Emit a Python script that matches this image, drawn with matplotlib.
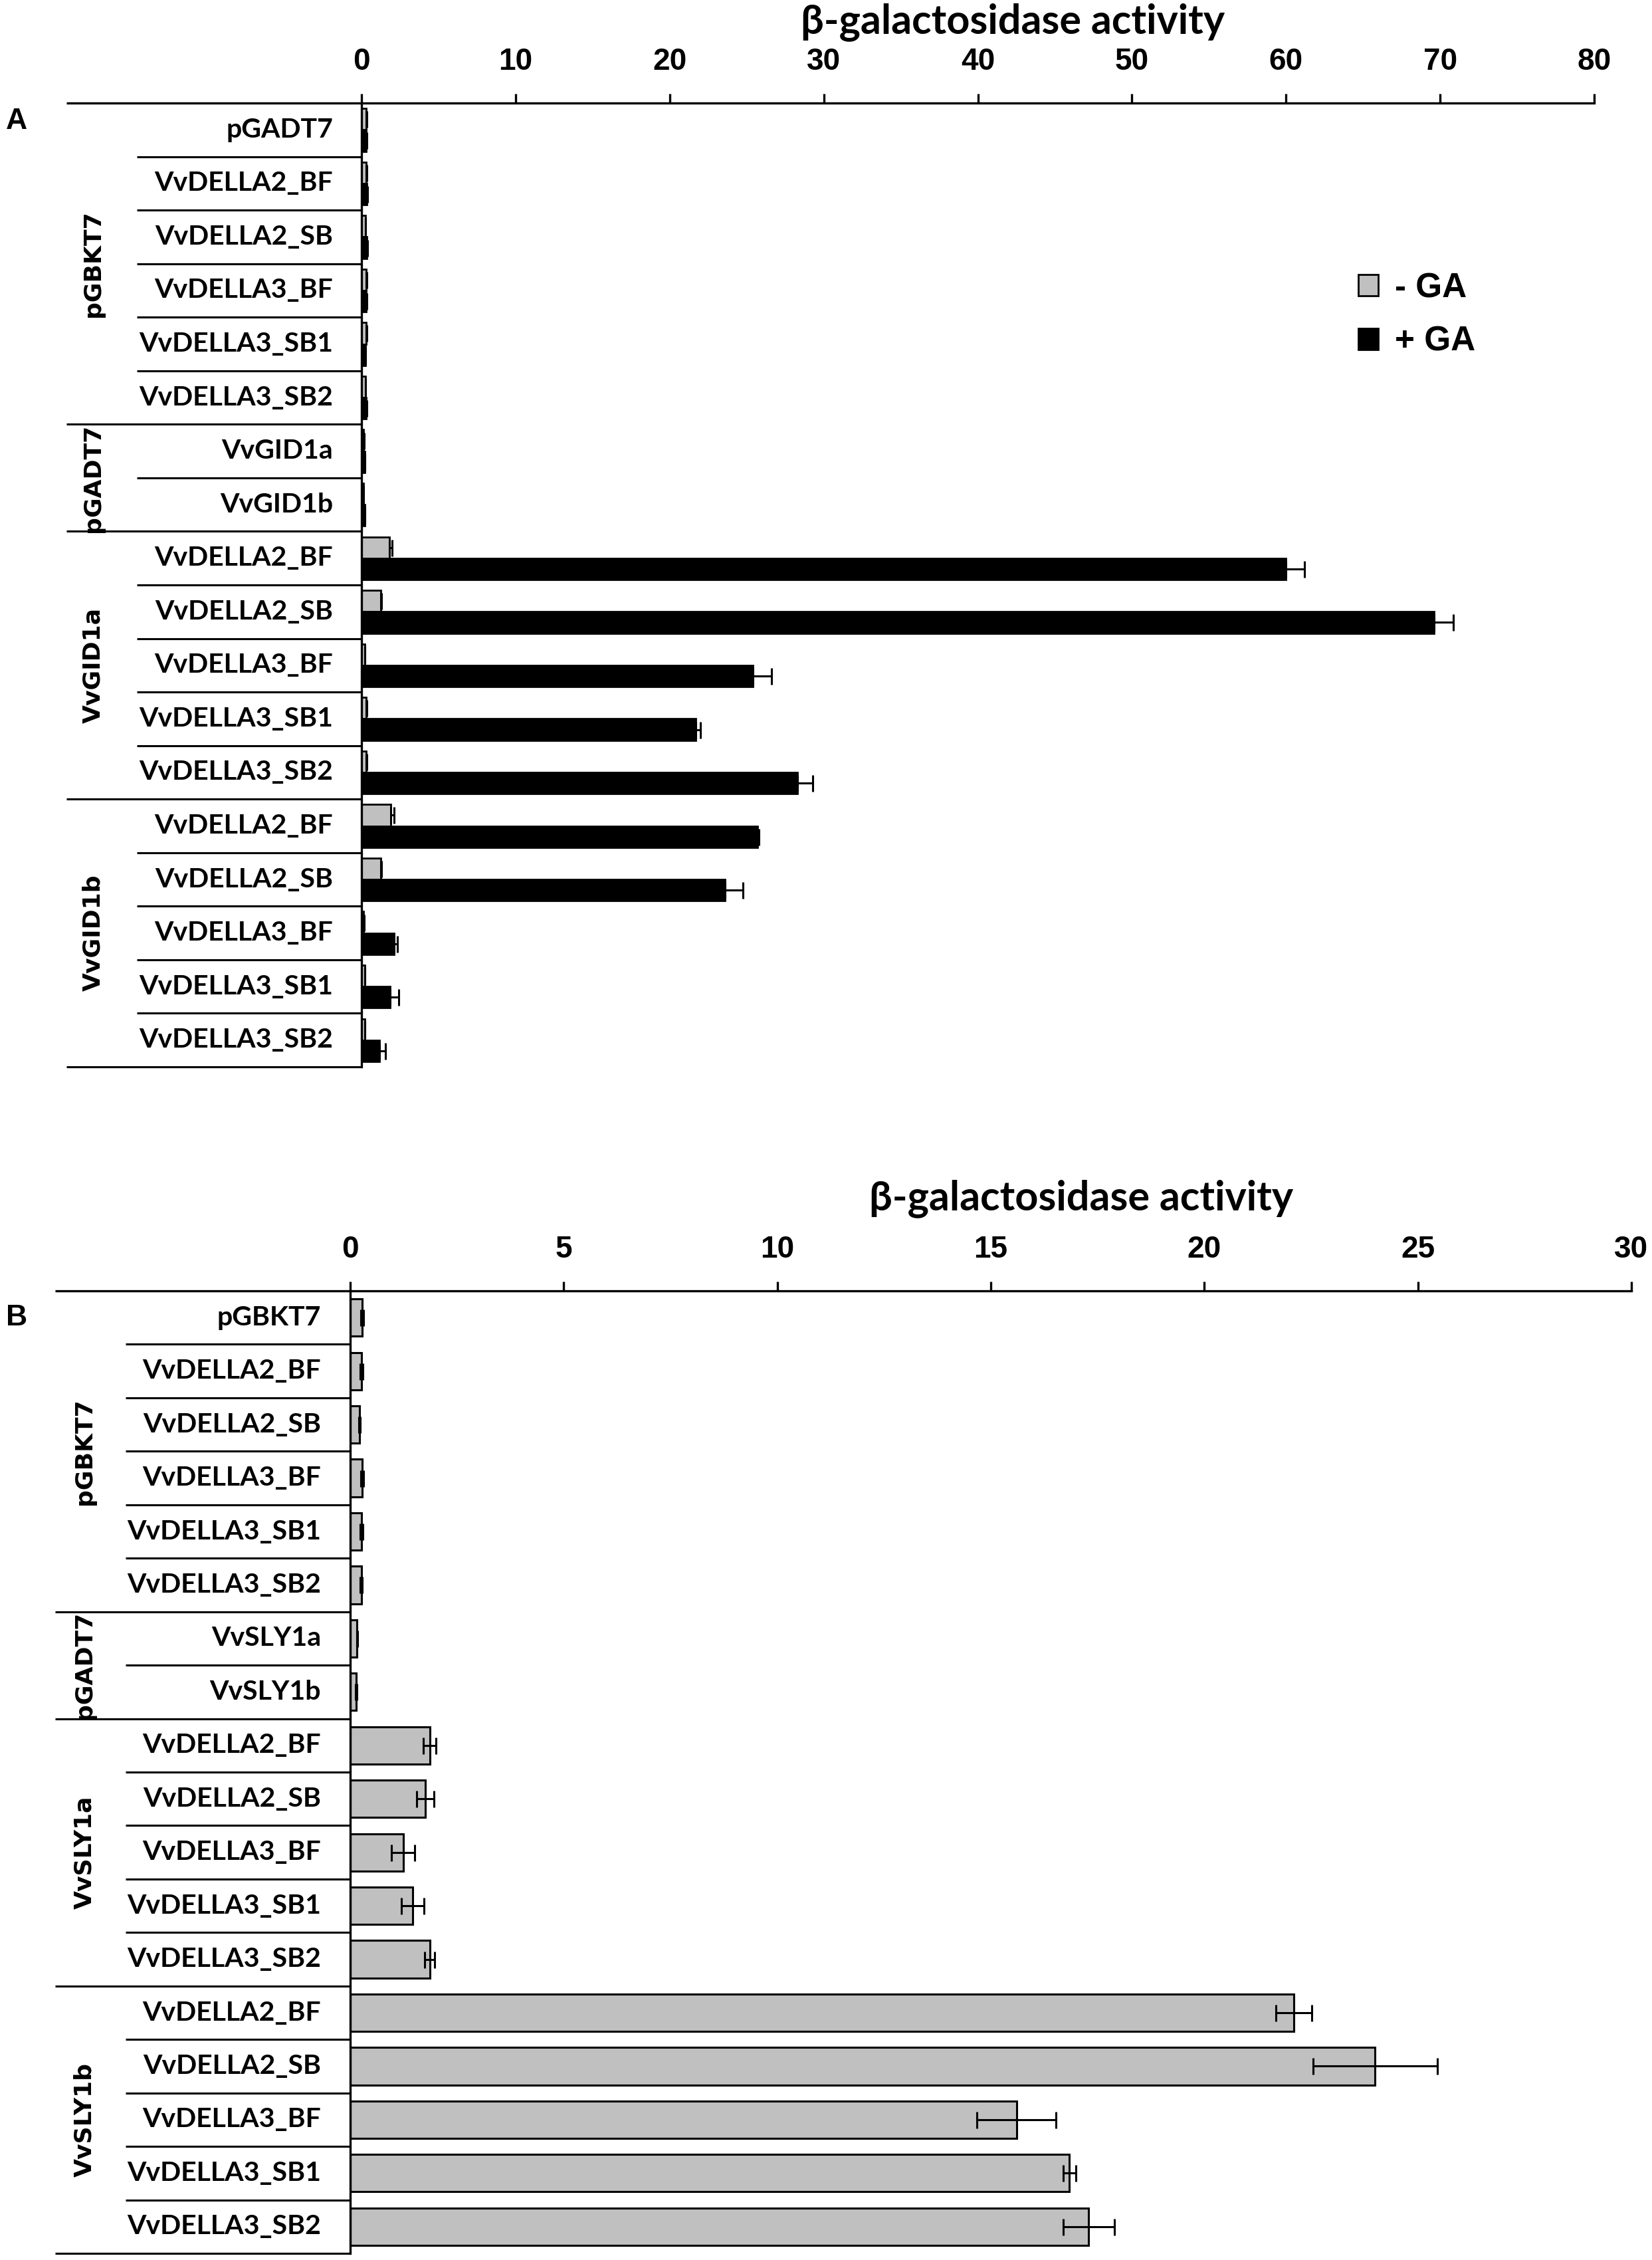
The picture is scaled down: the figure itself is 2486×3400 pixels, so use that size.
import numpy as np
import matplotlib.pyplot as plt
from matplotlib import transforms

W, H = 2486, 3400
LBL_FONT = 'Lato'
ARIAL = 'Liberation Sans'
GRP_FONT = 'DejaVu Sans'

# ---- data, panel A (with / without GA) ----
della = ['VvDELLA2_BF', 'VvDELLA2_SB', 'VvDELLA3_BF', 'VvDELLA3_SB1', 'VvDELLA3_SB2']
rows_a = ['pGADT7'] + della + ['VvGID1a', 'VvGID1b'] + della + della
groups_a = ['pGBKT7', 'pGADT7', 'VvGID1a', 'VvGID1b']
minus_ga = [0.3, 0.3, 0.25, 0.3, 0.3, 0.25, 0.15, 0.12,
            1.8, 1.25, 0.2, 0.3, 0.3, 1.9, 1.25, 0.15, 0.2, 0.2]
minus_ga_err = [0.03, 0.03, 0.03, 0.03, 0.03, 0.03, 0.02, 0.02,
                0.2, 0.05, 0.02, 0.03, 0.03, 0.2, 0.05, 0.02, 0.02, 0.02]
plus_ga = [0.3, 0.35, 0.35, 0.3, 0.25, 0.3, 0.2, 0.2,
           60.0, 69.6, 25.4, 21.7, 28.3, 25.7, 23.6, 2.1, 1.85, 1.15]
plus_ga_err = [0.03, 0.03, 0.03, 0.03, 0.03, 0.03, 0.02, 0.02,
               1.2, 1.25, 1.2, 0.3, 1.0, 0.1, 1.15, 0.25, 0.55, 0.4]

# ---- data, panel B ----
rows_b = ['pGBKT7'] + della + ['VvSLY1a', 'VvSLY1b'] + della + della
groups_b = ['pGBKT7', 'pGADT7', 'VvSLY1a', 'VvSLY1b']
vals_b = [0.28, 0.26, 0.22, 0.28, 0.27, 0.26, 0.16, 0.14,
          1.86, 1.76, 1.24, 1.46, 1.86, 22.1, 24.0, 15.6, 16.84, 17.29]
err_b = [0.03, 0.03, 0.02, 0.03, 0.03, 0.02, 0.01, 0.01,
         0.15, 0.2, 0.27, 0.26, 0.12, 0.42, 1.46, 0.93, 0.15, 0.6]

group_sizes = [6, 2, 5, 5]
grey = '#c0c0c0'


def fx(px):
    return px / W


def fy(py):
    return 1 - py / H


fig = plt.figure(figsize=(W / 100, H / 100), dpi=100)


def make_panel(left, right, top, bottom, xmax, step, rows, groups,
               x_long, x_short, x_label, x_group, title_x, title_y, letter, letter_y):
    ax = fig.add_axes([fx(left), fy(bottom), fx(right) - fx(left), (bottom - top) / H])
    n = len(rows)
    ax.set_xlim(0, xmax)
    ax.set_ylim(n - 0.5, -0.5)
    ax.xaxis.tick_top()
    ax.set_xticks(np.arange(0, xmax + 1, step))
    ax.set_yticks([])
    ax.tick_params(axis='x', direction='out', length=10, width=2.4, pad=19,
                   labelsize=33)
    for lab in ax.get_xticklabels():
        lab.set_fontfamily(ARIAL)
        lab.set_fontweight('bold')
    for s in ['right', 'bottom']:
        ax.spines[s].set_visible(False)
    for s in ['top', 'left']:
        ax.spines[s].set_linewidth(2.4)

    trans = transforms.blended_transform_factory(fig.transFigure, ax.transData)
    # top line running over the label table
    ax.plot([fx(x_long), fx(left)], [-0.5, -0.5], transform=trans,
            color='black', lw=2.4, clip_on=False, solid_capstyle='butt')
    bounds = np.cumsum(group_sizes) - 1
    for i in range(n):
        x0 = x_long if i in bounds else x_short
        ax.plot([fx(x0), fx(left)], [i + 0.5, i + 0.5], transform=trans,
                color='black', lw=2.2, clip_on=False, solid_capstyle='butt')
        ax.text(fx(x_label), i, rows[i], transform=trans, ha='right', va='center',
                fontsize=29.5, fontweight='bold', fontfamily=LBL_FONT)
    start = 0
    for g, size in zip(groups, group_sizes):
        ax.text(fx(x_group), start + (size - 1) / 2, g, transform=trans,
                rotation=90, ha='center', va='center', fontsize=26,
                fontweight='bold', fontfamily=GRP_FONT)
        start += size

    fig.text(fx(title_x), fy(title_y), 'β-galactosidase activity', ha='center',
             va='baseline', fontsize=44, fontweight='bold', fontfamily=LBL_FONT)
    fig.text(fx(9), fy(letter_y), letter, ha='left', va='center', fontsize=32,
             fontweight='bold', fontfamily=ARIAL)
    return ax


ax_a = make_panel(544, 2399, 155, 1605, 80, 10, rows_a, groups_a,
                  100, 206, 501, 140, 1524, 50, 'A', 182)
ax_b = make_panel(527, 2455, 1942, 3390, 30, 5, rows_b, groups_b,
                  83, 189, 483, 127, 1627, 1820, 'B', 1983)

y_a = np.arange(len(rows_a))
err_kw = dict(ecolor='black', elinewidth=2.2, capsize=9, capthick=2.2)
ax_a.barh(y_a - 0.2, minus_ga, height=0.4, color=grey, edgecolor='black', linewidth=2,
          xerr=[np.zeros(len(y_a)), minus_ga_err], error_kw=err_kw, label='- GA')
ax_a.barh(y_a + 0.2, plus_ga, height=0.4, color='black', edgecolor='black', linewidth=2,
          xerr=[np.zeros(len(y_a)), plus_ga_err], error_kw=err_kw, label='+ GA')
leg = ax_a.legend(loc='upper left', bbox_to_anchor=(fx(2044), fy(409)),
                  bbox_transform=fig.transFigure, frameon=False, borderaxespad=0,
                  borderpad=0, handlelength=0.58, handleheight=0.58, handletextpad=0.5,
                  labelspacing=0.62, prop={'family': ARIAL, 'weight': 'bold', 'size': 37})

y_b = np.arange(len(rows_b))
ax_b.barh(y_b, vals_b, height=0.7, color=grey, edgecolor='black', linewidth=2.2,
          xerr=err_b, error_kw=err_kw)

fig.savefig('out.png', dpi=100)
